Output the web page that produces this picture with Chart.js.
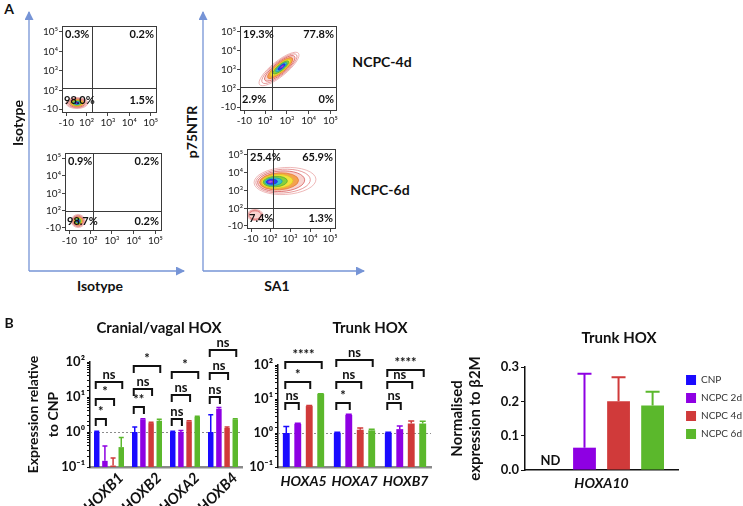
<!DOCTYPE html>
<html><head><meta charset="utf-8">
<script src="https://cdn.jsdelivr.net/npm/chart.js@4.4.1/dist/chart.umd.min.js"></script>
<style>
html,body{margin:0;padding:0;background:#fff;}
body{width:743px;height:506px;position:relative;overflow:hidden;font-family:Lato,'DejaVu Sans',sans-serif;}
canvas{position:absolute;}
.t{position:absolute;font-weight:bold;color:#111;white-space:nowrap;transform:translate(-50%,-50%);line-height:1;}
.r{transform:translate(-50%,-50%) rotate(-90deg);}
</style></head><body>
<svg width="743" height="506" style="position:absolute;left:0;top:0">
<defs><marker id="ah" markerWidth="9" markerHeight="9" refX="8" refY="4.5" orient="auto" markerUnits="userSpaceOnUse"><path d="M0,0 L9,4.5 L0,9 z" fill="#7694d6"/></marker></defs>
<g stroke="#7694d6" stroke-width="1.3" fill="none">
<line x1="29" y1="271" x2="29" y2="12" marker-end="url(#ah)"/>
<line x1="29" y1="271" x2="184" y2="271" marker-end="url(#ah)"/>
<line x1="203" y1="271" x2="203" y2="12" marker-end="url(#ah)"/>
<line x1="203" y1="271" x2="364" y2="271" marker-end="url(#ah)"/>
</g></svg>
<script>
// ================= DATA =================
// Panel A – flow cytometry quadrants (TL, TR, BL, BR) in %
const flowQuadIsotypeTop = [0.3, 0.2, 98.0, 1.5];
const flowQuadIsotypeBottom = [0.9, 0.2, 98.7, 0.2];
const flowQuadNCPC4d = [19.3, 77.8, 2.9, 0];
const flowQuadNCPC6d = [25.4, 65.9, 7.4, 1.3];
// axis ticks (biexponential display units)
const flowTickValues = [1.05, 2, 3, 4, 5];
const flowTickLabels = ['-10', '10²', '10³', '10⁴', '10⁵'];
// gate positions (display units) per plot
const flowGateX = [2.25, 2.13, 2.32, 2.15];
const flowGateY = [2.13, 1.99, 2.11, 2.02];
// population centres per plot
const flowPopX = [[1.55], [1.45], [2.64], [2.75, 1.25]];
const flowPopY = [[1.36], [1.42], [3.05], [3.52, 1.63]];

// Panel B – qPCR
const cranialGenes = ['HOXB1', 'HOXB2', 'HOXA2', 'HOXB4'];
const trunkGenes = ['HOXA5', 'HOXA7', 'HOXB7'];
const hoxa10Gene = ['HOXA10'];
const seriesNames = ['CNP', 'NCPC 2d', 'NCPC 4d', 'NCPC 6d'];

const cranialCNP    = [1.0, 1.0, 1.0, 1.0];
const cranialNCPC2d = [0.15, 2.3, 1.0, 4.6];
const cranialNCPC4d = [0.11, 1.8, 2.0, 1.3];
const cranialNCPC6d = [0.37, 2.1, 2.7, 2.3];
const cranialErrCNP    = [1.05, 1.4, 1.05, 3.1];
const cranialErrNCPC2d = [0.4, 2.4, 1.1, 5.0];
const cranialErrNCPC4d = [0.18, 1.9, 2.1, 1.4];
const cranialErrNCPC6d = [0.7, 2.3, 2.8, 2.4];

const trunkCNP    = [1.0, 1.0, 1.0];
const trunkNCPC2d = [1.85, 3.4, 1.3];
const trunkNCPC4d = [6.2, 1.25, 1.9];
const trunkNCPC6d = [14.0, 1.2, 1.9];
const trunkErrCNP    = [1.55, 1.05, 1.05];
const trunkErrNCPC2d = [1.95, 3.55, 1.6];
const trunkErrNCPC4d = [6.4, 1.4, 2.25];
const trunkErrNCPC6d = [14.2, 1.3, 2.2];

const hoxa10Mean = [null, 0.065, 0.2, 0.188];
const hoxa10Err  = [null, 0.28, 0.27, 0.228];

// significance brackets: [gene index, from series, to series, height (y units), label]
const cranialBrackets = [
  [0, 0, 1, 2.35, '*'], [0, 0, 2, 8.8, '*'], [0, 0, 3, 27, 'ns'],
  [1, 0, 1, 5.2, '**'], [1, 0, 2, 17, 'ns'], [1, 0, 3, 77, '*'],
  [2, 0, 1, 2.35, 'ns'], [2, 0, 2, 11.4, 'ns'], [2, 0, 3, 52, '*'],
  [3, 0, 1, 10, 'ns'], [3, 0, 2, 48, 'ns'], [3, 0, 3, 220, 'ns']
];
const trunkBrackets = [
  [0, 0, 1, 7.6, 'ns'], [0, 0, 2, 31.6, '*'], [0, 0, 3, 122, '****'],
  [1, 0, 1, 7.6, '*'], [1, 0, 2, 31.6, 'ns'], [1, 0, 3, 140, 'ns'],
  [2, 0, 1, 7.6, 'ns'], [2, 0, 2, 31.6, 'ns'], [2, 0, 3, 71, '****']
];
const referenceLevel = 1;
const logTickValues = [0.1, 1, 10, 100];
const logTickLabels = ['10⁻¹', '10⁰', '10¹', '10²'];
const linTickValues = [0, 0.1, 0.2, 0.3];
const linTickLabels = ['0.0', '0.1', '0.2', '0.3'];
const notDetectedText = 'ND';

// ================= STYLE =================
const FONT = "Lato, 'DejaVu Sans', sans-serif";
const seriesColors = ['#1A0AFF', '#8E00E3', '#D03A3A', '#5BB82C'];
Chart.defaults.font.family = FONT;
Chart.defaults.color = '#111';
Chart.defaults.animation = false;
Chart.defaults.plugins.legend.display = false;
Chart.defaults.plugins.tooltip.enabled = false;

function txt(s, x, y, size, cls) {
  const d = document.createElement('div');
  d.className = 't' + (cls ? ' ' + cls : '');
  d.textContent = s; d.style.left = x + 'px'; d.style.top = y + 'px'; d.style.fontSize = size + 'px';
  document.body.appendChild(d);
}
function mkCanvas(left, top, w, h) {
  const c = document.createElement('canvas');
  c.width = w; c.height = h;
  c.style.left = left + 'px'; c.style.top = top + 'px'; c.style.width = w + 'px'; c.style.height = h + 'px';
  document.body.appendChild(c);
  return c;
}

// ---------- contour styling (not data) ----------
const contourRings = [
  {s: 1.00, stroke: '#eaa8a8', fill: null},
  {s: 0.88, stroke: '#e28484', fill: null},
  {s: 0.76, stroke: '#d86060', fill: 'rgba(240,160,150,0.45)'},
  {s: 0.63, stroke: '#e87a3a', fill: '#f3a24e'},
  {s: 0.51, stroke: '#e2c422', fill: '#f3e23c'},
  {s: 0.39, stroke: '#5fae2e', fill: '#86d03c'},
  {s: 0.28, stroke: '#1f9fb0', fill: '#38c4cc'},
  {s: 0.18, stroke: '#1a30e0', fill: '#2b3cf0'},
  {s: 0.08, stroke: '#8a20c0', fill: '#b070f0'}
];
// per plot, per population: [width px, height px, angle rad, core offset px, ring count]
const flowShapes = [
  [[22, 11, 0, 0, 9]],
  [[14, 13, 0, 0, 9]],
  [[50, 15, -0.68, 4, 9]],
  [[62, 27, -0.06, -16, 9], [16, 11, 0, 0, 3]]
];
function drawContour(ctx, x, y, st) {
  const [w, h, ang, off, depth] = st;
  ctx.save();
  ctx.translate(x, y); ctx.rotate(ang);
  for (let k = 0; k < depth; k++) {
    const r = contourRings[k];
    const dx = off * (1 - r.s);
    ctx.beginPath();
    ctx.ellipse(dx, 0, w / 2 * r.s, h / 2 * r.s, 0, 0, Math.PI * 2);
    if (r.fill) { ctx.fillStyle = r.fill; ctx.fill(); }
    ctx.strokeStyle = r.stroke; ctx.lineWidth = 0.8; ctx.stroke();
  }
  ctx.restore();
}
const flowQuads = [flowQuadIsotypeTop, flowQuadIsotypeBottom, flowQuadNCPC4d, flowQuadNCPC6d];
const flowPlugin = {
  id: 'flow',
  afterDatasetsDraw(chart, args, o) {
    const p = o.plot;
    const ctx = chart.ctx, ca = chart.chartArea, xs = chart.scales.x, ys = chart.scales.y;
    ctx.save();
    ctx.beginPath(); ctx.rect(ca.left, ca.top, ca.right - ca.left, ca.bottom - ca.top); ctx.clip();
    flowPopX[p].forEach((vx, i) =>
      drawContour(ctx, xs.getPixelForValue(vx), ys.getPixelForValue(flowPopY[p][i]), flowShapes[p][i]));
    ctx.restore();
    ctx.save();
    ctx.strokeStyle = '#3a3a3a'; ctx.lineWidth = 1;
    ctx.strokeRect(ca.left + 0.5, ca.top + 0.5, ca.right - ca.left - 1, ca.bottom - ca.top - 1);
    const gx = Math.round(xs.getPixelForValue(flowGateX[p])) + 0.5;
    const gy = Math.round(ys.getPixelForValue(flowGateY[p])) + 0.5;
    ctx.beginPath();
    ctx.moveTo(gx, ca.top); ctx.lineTo(gx, ca.bottom);
    ctx.moveTo(ca.left, gy); ctx.lineTo(ca.right, gy);
    ctx.stroke();
    const q = flowQuads[p];
    const f = v => (v === 0 ? '0' : v.toFixed(1)) + '%';
    ctx.fillStyle = '#111'; ctx.font = 'bold 11px ' + FONT;
    ctx.textBaseline = 'top';
    ctx.textAlign = 'left'; ctx.fillText(f(q[0]), ca.left + 3, ca.top + 3);
    ctx.textAlign = 'right'; ctx.fillText(f(q[1]), ca.right - 3, ca.top + 3);
    ctx.textBaseline = 'middle';
    const my = (gy + ca.bottom) / 2;
    ctx.textAlign = 'left'; ctx.fillText(f(q[2]), ca.left + 2, my);
    ctx.textAlign = 'right'; ctx.fillText(f(q[3]), ca.right - 3, my);
    ctx.restore();
  }
};
const errPlugin = {
  id: 'errbars',
  afterDatasetsDraw(chart, args, o) {
    const ctx = chart.ctx, ys = chart.scales.y;
    ctx.save(); ctx.lineWidth = o.lineWidth;
    chart.data.datasets.forEach((ds, i) => {
      chart.getDatasetMeta(i).data.forEach((bar, j) => {
        const top = o.tops[i][j];
        if (top == null || ds.data[j] == null) return;
        const py = ys.getPixelForValue(top);
        ctx.strokeStyle = ds.backgroundColor;
        ctx.beginPath();
        ctx.moveTo(bar.x, bar.y); ctx.lineTo(bar.x, py);
        ctx.moveTo(bar.x - o.cap / 2, py); ctx.lineTo(bar.x + o.cap / 2, py);
        ctx.stroke();
      });
    });
    ctx.restore();
  }
};
const refLinePlugin = {
  id: 'refline',
  beforeDatasetsDraw(chart, args, o) {
    const ctx = chart.ctx, ca = chart.chartArea;
    const y = Math.round(chart.scales.y.getPixelForValue(o.value)) + 0.5;
    ctx.save(); ctx.strokeStyle = '#8c8c8c'; ctx.lineWidth = 1; ctx.setLineDash([2, 2]);
    ctx.beginPath(); ctx.moveTo(ca.left, y); ctx.lineTo(ca.right, y); ctx.stroke();
    ctx.restore();
  }
};
const bracketPlugin = {
  id: 'brackets',
  afterDatasetsDraw(chart, args, o) {
    const ctx = chart.ctx, ys = chart.scales.y;
    ctx.save();
    ctx.strokeStyle = '#111'; ctx.fillStyle = '#111'; ctx.lineWidth = 2;
    ctx.font = 'bold 13px ' + FONT; ctx.textAlign = 'center'; ctx.textBaseline = 'bottom';
    o.items.forEach(([g, a, b, val, label]) => {
      const xa = chart.getDatasetMeta(a).data[g].x - 1;
      const xb = chart.getDatasetMeta(b).data[g].x + 1;
      const py = Math.round(ys.getPixelForValue(val));
      ctx.beginPath();
      ctx.moveTo(xa, py + o.leg); ctx.lineTo(xa, py); ctx.lineTo(xb, py); ctx.lineTo(xb, py + o.leg);
      ctx.stroke();
      ctx.fillText(label, (xa + xb) / 2, py - 1);
    });
    ctx.restore();
  }
};
const ndPlugin = {
  id: 'nd',
  afterDatasetsDraw(chart, args, o) {
    const ctx = chart.ctx;
    ctx.save(); ctx.fillStyle = '#111'; ctx.font = 'bold 13px ' + FONT;
    ctx.textAlign = 'center'; ctx.textBaseline = 'bottom';
    chart.data.datasets.forEach((ds, i) => {
      chart.getDatasetMeta(i).data.forEach((bar, j) => {
        if (ds.data[j] == null) ctx.fillText(o.text, bar.x, chart.chartArea.bottom - 3);
      });
    });
    ctx.restore();
  }
};

// ---------- Panel A: flow plots ----------
const flowBoxes = [ // canvas left, top, w, h, padTop, padRight, yWidth, xHeight
  [20, 15, 145, 120, 11, 8, 42, 22],
  [20, 140, 150, 112, 13, 8, 45, 21],
  [200, 15, 145, 118, 11, 8, 40, 22],
  [205, 138, 139, 113, 11, 8, 42, 22]
];
function flowAxis(w, h) {
  return {
    type: 'linear', min: 0.85, max: 5.3,
    afterBuildTicks(s) { s.ticks = flowTickValues.map(v => ({value: v})); },
    afterFit(s) { if (w != null) s.width = w; if (h != null) s.height = h; },
    ticks: {
      autoSkip: false, maxRotation: 0, padding: 1, color: '#222', font: {size: 10},
      callback: v => flowTickLabels[flowTickValues.indexOf(v)]
    },
    grid: {drawOnChartArea: false, tickLength: 3, color: '#444'},
    border: {display: false}
  };
}
flowBoxes.forEach((b, p) => {
  const c = mkCanvas(b[0], b[1], b[2], b[3]);
  new Chart(c, {
    type: 'scatter',
    data: {datasets: [{data: flowPopX[p].map((x, i) => ({x: x, y: flowPopY[p][i]})), pointRadius: 0}]},
    options: {
      responsive: false, devicePixelRatio: 1,
      layout: {padding: {top: b[4], right: b[5], left: 0, bottom: 0}},
      scales: {x: flowAxis(null, b[7]), y: flowAxis(b[6], null)},
      plugins: {flow: {plot: p}}
    },
    plugins: [flowPlugin]
  });
});

// ---------- Panel B ----------
function barSets(vals, cp, bp) {
  return vals.map((v, i) => ({
    label: seriesNames[i], data: v, backgroundColor: seriesColors[i], borderColor: seriesColors[i],
    borderWidth: 0, categoryPercentage: cp, barPercentage: bp
  }));
}
function logY(width, title, pad) {
  const o = {
    type: 'logarithmic', min: 0.1, max: 100,
    afterFit(s) { s.width = width; },
    ticks: {
      autoSkip: false, padding: 2, color: '#111', font: {size: 13, weight: 'bold'},
      callback: v => { const k = logTickValues.findIndex(t => Math.abs(v / t - 1) < 1e-6); return k < 0 ? '' : logTickLabels[k]; }
    },
    grid: {drawOnChartArea: false, tickLength: 3, color: '#111'},
    border: {color: '#111', width: 1.5}
  };
  if (title) o.title = {display: true, text: title, color: '#111', font: {size: 14, weight: 'bold', lineHeight: 1.43}, padding: {top: pad, bottom: 0}};
  return o;
}
const geneFont = {size: 14, weight: 'bold', style: 'italic'};

// Chart B1 – cranial/vagal
new Chart(mkCanvas(0, 330, 245, 176), {
  type: 'bar',
  data: {labels: cranialGenes, datasets: barSets([cranialCNP, cranialNCPC2d, cranialNCPC4d, cranialNCPC6d], 0.86, 0.67)},
  options: {
    responsive: false, devicePixelRatio: 1,
    layout: {padding: {top: 32, right: 3, left: 0, bottom: 0}},
    scales: {
      x: {
        afterFit(s) { s.height = 39; },
        ticks: {minRotation: 45, maxRotation: 45, autoSkip: false, padding: 2, labelOffset: 12, color: '#111',
          font: {size: 15, weight: 'bold', style: 'italic'}},
        grid: {display: false, drawTicks: false},
        border: {color: '#8a8a8a', width: 2.5}
      },
      y: logY(90, ['Expression relative', 'to CNP'], 23)
    },
    plugins: {
      refline: {value: referenceLevel},
      errbars: {tops: [cranialErrCNP, cranialErrNCPC2d, cranialErrNCPC4d, cranialErrNCPC6d], lineWidth: 1.5, cap: 5},
      brackets: {items: cranialBrackets, leg: 7}
    }
  },
  plugins: [refLinePlugin, errPlugin, bracketPlugin]
});

// Chart B2 – trunk (log)
new Chart(mkCanvas(240, 330, 200, 176), {
  type: 'bar',
  data: {labels: trunkGenes, datasets: barSets([trunkCNP, trunkNCPC2d, trunkNCPC4d, trunkNCPC6d], 0.9, 0.6)},
  options: {
    responsive: false, devicePixelRatio: 1,
    layout: {padding: {top: 35, right: 9, left: 0, bottom: 0}},
    scales: {
      x: {
        afterFit(s) { s.height = 39; },
        ticks: {maxRotation: 0, autoSkip: false, padding: 6, color: '#111', font: geneFont},
        grid: {display: false, drawTicks: false},
        border: {color: '#8a8a8a', width: 2.5}
      },
      y: logY(38, null, 0)
    },
    plugins: {
      refline: {value: referenceLevel},
      errbars: {tops: [trunkErrCNP, trunkErrNCPC2d, trunkErrNCPC4d, trunkErrNCPC6d], lineWidth: 1.5, cap: 6},
      brackets: {items: trunkBrackets, leg: 7}
    }
  },
  plugins: [refLinePlugin, errPlugin, bracketPlugin]
});

// Chart B3 – HOXA10
new Chart(mkCanvas(440, 330, 312, 176), {
  type: 'bar',
  data: {
    labels: hoxa10Gene,
    datasets: seriesNames.map((n, i) => ({
      label: n, data: [hoxa10Mean[i]], backgroundColor: seriesColors[i], borderColor: seriesColors[i],
      borderWidth: 0, categoryPercentage: 0.89, barPercentage: 0.67
    }))
  },
  options: {
    responsive: false, devicePixelRatio: 1,
    layout: {padding: {top: 37, right: 0, left: 0, bottom: 0}},
    scales: {
      x: {
        afterFit(s) { s.height = 36; },
        ticks: {maxRotation: 0, padding: 5, color: '#111', font: geneFont},
        grid: {display: false, drawTicks: false},
        border: {color: '#111', width: 1.5}
      },
      y: {
        min: 0, max: 0.3,
        afterBuildTicks(s) { s.ticks = linTickValues.map(v => ({value: v})); },
        afterFit(s) { s.width = 85; },
        ticks: {padding: 2, color: '#111', font: {size: 13, weight: 'bold'},
          callback: v => linTickLabels[linTickValues.findIndex(t => Math.abs(t - v) < 1e-9)]},
        grid: {drawOnChartArea: false, tickLength: 4, color: '#111'},
        border: {color: '#111', width: 1.5},
        title: {display: true, text: ['Normalised', 'expression to β2M'], color: '#111',
          font: {size: 15, weight: 'bold', lineHeight: 1.2}, padding: {top: 8, bottom: 0}}
      }
    },
    plugins: {
      legend: {display: true, position: 'right', align: 'start', fullSize: false,
        labels: {boxWidth: 10, boxHeight: 10, padding: 8, color: '#333', font: {size: 10}}},
      errbars: {tops: seriesNames.map((n, i) => [hoxa10Err[i]]), lineWidth: 2, cap: 14},
      nd: {text: notDetectedText}
    }
  },
  plugins: [errPlugin, ndPlugin]
});

// ---------- text labels ----------
txt('A', 9, 9, 14);
txt('B', 9, 323, 14);
txt('Isotype', 18, 123, 14, 'r');
txt('Isotype', 100, 286, 14);
txt('p75NTR', 192, 132, 14, 'r');
txt('SA1', 277, 286, 14);
txt('NCPC-4d', 382, 62, 14);
txt('NCPC-6d', 380, 190, 14);
txt('Cranial/vagal HOX', 159, 327, 15);
txt('Trunk HOX', 370, 327, 15);
txt('Trunk HOX', 619, 337, 15);
</script>
</body></html>
